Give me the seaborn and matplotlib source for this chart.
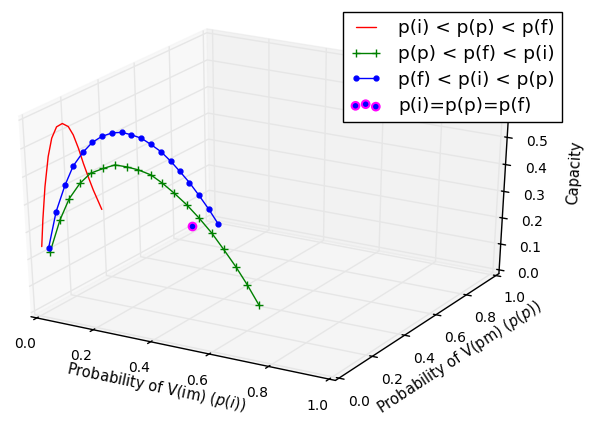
import numpy as np
import matplotlib
matplotlib.use("Agg")
import matplotlib.pyplot as plt
import seaborn as sns

W, H = 593, 421

# ---- data ----
red_pi = [0.008, 0.012, 0.018, 0.025, 0.032, 0.040, 0.049, 0.057, 0.064, 0.071,
          0.077, 0.083, 0.090, 0.097, 0.102]
red_pp = [0.016, 0.024, 0.036, 0.051, 0.064, 0.080, 0.097, 0.115, 0.128, 0.141,
          0.154, 0.167, 0.180, 0.194, 0.203]
red_cap = [0.242, 0.338, 0.455, 0.559, 0.621, 0.657, 0.665, 0.650, 0.618, 0.568,
           0.511, 0.460, 0.409, 0.363, 0.332]
blue_pi = [0.021, 0.038, 0.056, 0.072, 0.090, 0.107, 0.124, 0.142, 0.159, 0.175,
           0.193, 0.209, 0.227, 0.244, 0.260, 0.277, 0.294, 0.311, 0.328]
blue_pp = [0.032, 0.057, 0.084, 0.108, 0.135, 0.161, 0.186, 0.213, 0.239, 0.263,
           0.290, 0.314, 0.341, 0.366, 0.390, 0.416, 0.441, 0.467, 0.492]
blue_cap = [0.233, 0.362, 0.452, 0.516, 0.559, 0.589, 0.605, 0.612, 0.609, 0.596,
            0.578, 0.552, 0.520, 0.481, 0.439, 0.392, 0.340, 0.284, 0.224]
green_pi = [0.035, 0.066, 0.093, 0.123, 0.152, 0.186, 0.216, 0.246, 0.276, 0.308,
            0.337, 0.367, 0.399, 0.431, 0.463, 0.493, 0.525, 0.555, 0.586]
green_pp = [0.018, 0.033, 0.047, 0.062, 0.076, 0.093, 0.108, 0.123, 0.138, 0.154,
            0.169, 0.184, 0.200, 0.216, 0.232, 0.247, 0.263, 0.278, 0.293]
green_cap = [0.226, 0.345, 0.423, 0.479, 0.516, 0.534, 0.547, 0.541, 0.531, 0.514,
             0.485, 0.450, 0.409, 0.361, 0.308, 0.250, 0.186, 0.119, 0.044]
eq_pi, eq_pp, eq_cap = [1 / 3], [1 / 3], [0.273]

tick_vals = [0.0, 0.2, 0.4, 0.6, 0.8, 1.0]
cap_ticks = [0.0, 0.1, 0.2, 0.3, 0.4, 0.5, 0.6, 0.7]
labels = ["p(i) < p(p) < p(f)", "p(p) < p(f) < p(i)", "p(f) < p(i) < p(p)", "p(i)=p(p)=p(f)"]

sns.set_theme(style="white")
plt.rcParams.update({
    "font.family": ["DejaVu Sans"],
    "axes3d.automargin": True,
    "grid.color": (0.9, 0.9, 0.9),
    "grid.linewidth": 1.0,
    "grid.linestyle": "-",
    "axes.edgecolor": "black",
    "axes.linewidth": 1.0,
    "xtick.major.width": 1.0,
    "ytick.major.width": 1.0,
    "xtick.color": "black", "ytick.color": "black",
    "text.color": "black", "axes.labelcolor": "black",
    "mathtext.fontset": "dejavusans",
})

fig = plt.figure(figsize=(W / 100, H / 100), dpi=100)
ax = fig.add_subplot(projection="3d")
# keep the (old-style) non-square 3D axes box
ax.apply_aspect = lambda position=None: None
ax.set_position([-51.6 / W, 15.2 / H, 623.8 / W, 404.2 / H])
ax.set_xlim(0, 1)
ax.set_ylim(0, 1)
ax.set_zlim(0, 0.70)
ax.set_box_aspect((1, 1, 1), zoom=np.sqrt(3) / 1.8294640721620434)
ax.view_init(elev=29.5, azim=-60)

ax.plot(red_pi, red_pp, red_cap, color="red", lw=1.0, label=labels[0])
ax.plot(green_pi, green_pp, green_cap, color="green", marker="+", ms=6, mew=1.0, lw=1.0,
        label=labels[1])
ax.plot(blue_pi, blue_pp, blue_cap, color="blue", marker=".", ms=7, lw=1.0,
        label=labels[2])
ax.scatter(eq_pi, eq_pp, eq_cap, c="blue", edgecolors="magenta", s=30, linewidths=1.5,
           depthshade=False, label=labels[3])

ax.set_xlabel("Probability of V(im) $(p(i))$", fontsize=10.5)
ax.set_ylabel("Probability of V(pm) $(p(p))$", fontsize=10.5)
ax.set_zlabel("Capacity", fontsize=10.5, labelpad=8)
ax.set_xticks(tick_vals)
ax.set_yticks(tick_vals)
ax.set_zticks(cap_ticks)
for a in (ax.xaxis, ax.yaxis, ax.zaxis):
    a.set_tick_params(labelsize=10, pad=4.5)

leg = ax.legend(loc="upper right", bbox_to_anchor=(562 / W, 1 - 12 / H), bbox_transform=fig.transFigure,
                borderaxespad=0, fontsize=13.3, numpoints=2, scatterpoints=3, fancybox=False,
                framealpha=1, edgecolor="black", handlelength=1.7, handletextpad=0.9,
                borderpad=0.4, labelspacing=0.42)
leg.get_frame().set_linewidth(1.0)
fig.savefig("out.png", dpi=100)
